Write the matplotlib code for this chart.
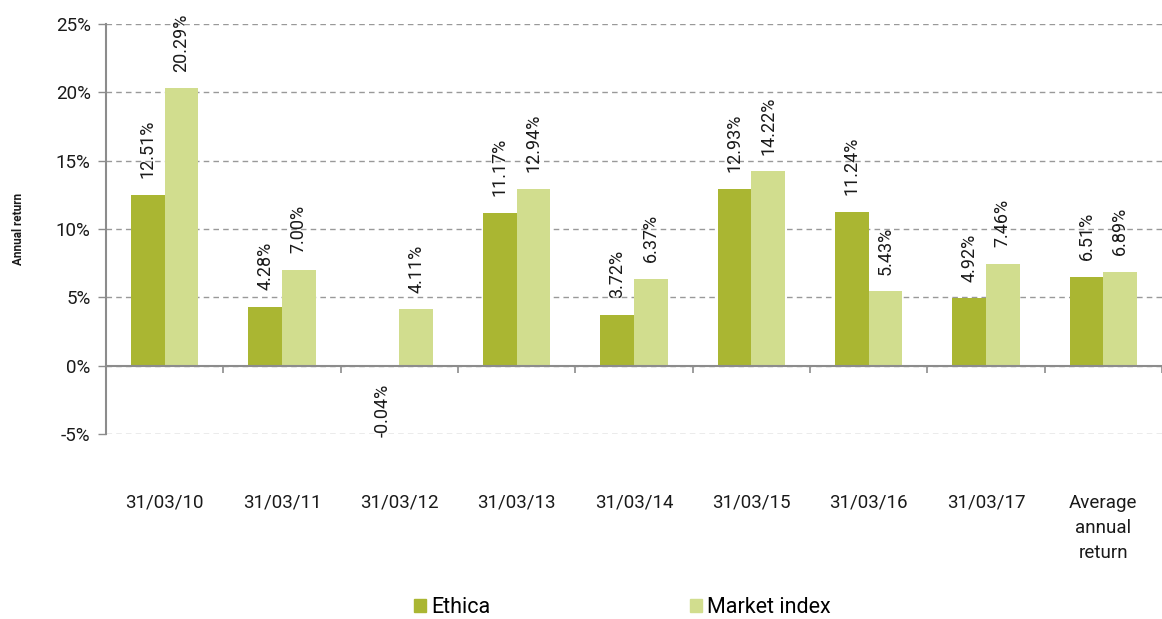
import numpy as np
import matplotlib.pyplot as plt
from matplotlib.patches import Patch

plt.rcParams['font.family'] = ['Roboto', 'DejaVu Sans']

categories = ['31/03/10', '31/03/11', '31/03/12', '31/03/13', '31/03/14',
              '31/03/15', '31/03/16', '31/03/17', 'Average\nannual\nreturn']
ethica = [12.51, 4.28, -0.04, 11.17, 3.72, 12.93, 11.24, 4.92, 6.51]
market = [20.29, 7.00, 4.11, 12.94, 6.37, 14.22, 5.43, 7.46, 6.89]
yticks = [-5, 0, 5, 10, 15, 20, 25]

c_eth = '#aab632'
c_mkt = '#d1dd8e'
grey = '#8c8c8c'

fig = plt.figure(figsize=(11.62, 6.19), dpi=100)
ax = fig.add_axes([0.0912, 0.299, 0.9088, 0.662])

x = np.arange(len(categories))
w = 0.286
b1 = ax.bar(x - w/2, ethica, w, color=c_eth, zorder=3)
b2 = ax.bar(x + w/2, market, w, color=c_mkt, zorder=3)

# rotated value labels
for bars, vals in ((b1, ethica), (b2, market)):
    for r, v in zip(bars, vals):
        pos = v >= 0
        ax.annotate(f'{v:.2f}%', (r.get_x() + r.get_width()/2, v if pos else 0),
                    xytext=(0, 12 if pos else -13), textcoords='offset points', rotation=90,
                    ha='center', va='bottom' if pos else 'top',
                    fontsize=13, color='#1a1a1a')

ax.set_xlim(-0.5, len(categories) - 0.5)
ax.set_ylim(-5, 25)
ax.set_yticks(yticks)
ax.set_yticklabels([f'{t}%' for t in yticks])
ax.yaxis.grid(True, linestyle=(0, (4, 3)), color='#999999', linewidth=1, zorder=0)
ax.tick_params(axis='y', length=6, color=grey, width=1, pad=5,
               labelsize=13.5, labelcolor='#1a1a1a')

# category ticks at group boundaries, labels below the plot
ax.set_xticks(np.arange(len(categories) + 1) - 0.5)
ax.set_xticklabels([])
ax.tick_params(axis='x', length=5, color=grey, width=1.2, direction='out')
for i, cat in enumerate(categories):
    ax.annotate(cat, (x[i], 0), xycoords=('data', 'axes fraction'),
                xytext=(0, -43), textcoords='offset points',
                ha='center', va='top', fontsize=13.5, linespacing=1.5,
                color='#1a1a1a', annotation_clip=False)

for s in ('top', 'right'):
    ax.spines[s].set_visible(False)
ax.spines['bottom'].set_position(('data', 0))
ax.spines['bottom'].set_color(grey)
ax.spines['bottom'].set_linewidth(1.5)
ax.spines['bottom'].set_zorder(4)
ax.spines['left'].set_color(grey)
ax.spines['left'].set_linewidth(1.5)

fig.text(0.016, 0.63, 'Annual return', rotation=90, ha='center', va='center',
         fontsize=8.5, fontweight='bold', color='#1a1a1a')

handles = [Patch(color=c_eth, label='Ethica'), Patch(color=c_mkt, label='Market index')]
fig.legend(handles=handles, loc='center', bbox_to_anchor=(0.5357, 0.019), ncol=2,
           frameon=False, fontsize=15.5, handlelength=0.55, handleheight=0.55,
           handletextpad=0.23, columnspacing=9.3)

fig.savefig('out.png', dpi=100)
